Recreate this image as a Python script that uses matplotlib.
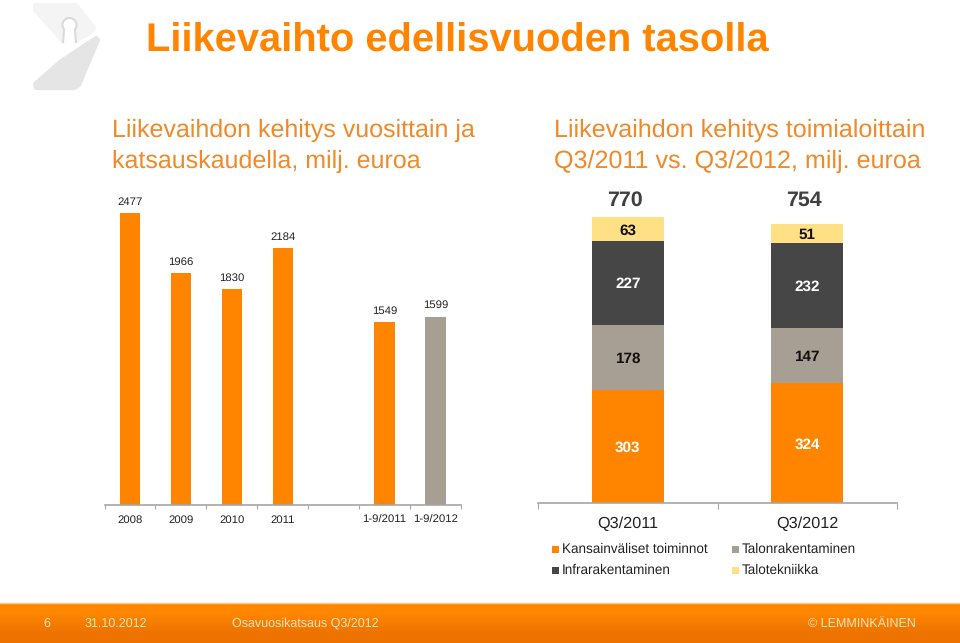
import matplotlib
matplotlib.use("Agg")
import matplotlib.pyplot as plt
from matplotlib.patches import Polygon, Rectangle
import numpy as np

plt.rcParams['font.family'] = ['Liberation Sans', 'DejaVu Sans']
plt.rcParams['text.hinting'] = 'no_hinting'

W = 960
H = 643

ORANGE = "#FF8500"
GREY = "#A89F94"
DARK = "#464646"
YELLOW = "#FFE085"
SUB = "#EE8A2A"
FOOT = "#FFE3BE"

# vuosittain
years = ["2008", "2009", "2010", "2011", "", "1-9/2011", "1-9/2012"]
sales = [2477, 1966, 1830, 2184, None, 1549, 1599]
sales_colors = [ORANGE, ORANGE, ORANGE, ORANGE, ORANGE, ORANGE, GREY]

# toimialoittain
quarters = ["Q3/2011", "Q3/2012"]
international = [303, 324]
building = [178, 147]
infra = [227, 232]
services = [63, 51]
totals = [770, 754]
segment_names = ["Kansainväliset toiminnot", "Infrarakentaminen", "Talonrakentaminen", "Talotekniikka"]


def px_axes(fig, left, right, top, bottom):
    return fig.add_axes([left / W, 1 - bottom / H, (right - left) / W, (bottom - top) / H])


fig = plt.figure(figsize=(W / 100, H / 100), dpi=100)

# koko kuvan tausta pikseleissa
bg = fig.add_axes([0, 0, 1, 1])
bg.axis("off")

# alapalkki
grad = np.array([[1.0, 0.53, 0.0], [0.93, 0.45, 0.0]]).reshape(2, 1, 3)
bg.imshow(grad, extent=(0, W, H, 603), aspect="auto", interpolation="bilinear", zorder=1)
bg.set_xlim(0, W)
bg.set_ylim(H, 0)
bg.plot([0, W], [603, 603], color="#FFC88A", lw=1, zorder=2)

# logo
bg.add_patch(Polygon([(35, 5), (76, 5), (94, 28), (90, 33), (75, 41), (63, 41), (35, 10)],
                     closed=True, fc="#F4F4F4", ec="#F4F4F4", lw=3, joinstyle="round", zorder=2))
bg.add_patch(Polygon([(96, 38), (98, 40), (79, 85), (75, 88), (36, 88), (35, 84), (60, 62)],
                     closed=True, fc="#E5E5E5", ec="#E5E5E5", lw=3, joinstyle="round", zorder=2))
ring = np.linspace(np.radians(-40), np.radians(220), 40)
ring_x = np.concatenate([[76], 69.5 + 7 * np.cos(ring), [63]])
ring_y = np.concatenate([[42], 25 - 7 * np.sin(ring), [42]])
bg.fill(ring_x, ring_y, color="white", zorder=3)
bg.plot(ring_x, ring_y, color="#DADADA", lw=1.5, zorder=3)

bg.text(146, 52, "Liikevaihto edellisvuoden tasolla", fontsize=28.7, fontweight="bold",
        color=ORANGE, va="baseline", ha="left")

bg.text(112, 137, "Liikevaihdon kehitys vuosittain ja", fontsize=18, color=SUB, va="baseline")
bg.text(112, 168, "katsauskaudella, milj. euroa", fontsize=18, color=SUB, va="baseline")
bg.text(554, 137, "Liikevaihdon kehitys toimialoittain", fontsize=18.1, color=SUB, va="baseline")
bg.text(554, 168, "Q3/2011 vs. Q3/2012, milj. euroa", fontsize=18.1, color=SUB, va="baseline")

# alatunniste
bg.text(47, 627, "6", fontsize=9, color=FOOT, va="baseline", ha="center", zorder=3)
bg.text(85, 627, "31.10.2012", fontsize=9, color=FOOT, va="baseline", zorder=3)
bg.text(232, 627, "Osavuosikatsaus Q3/2012", fontsize=9, color=FOOT, va="baseline", zorder=3)
bg.text(916, 627, "© LEMMINKÄINEN", fontsize=9, color=FOOT, va="baseline", ha="right", zorder=3)

# vasen kuva
ax1 = px_axes(fig, 104.5, 461, 199, 504.5)
ax1.patch.set_alpha(0)
x1 = np.arange(len(years))
for i, v in enumerate(sales):
    if v is None:
        continue
    ax1.bar(i, v, width=0.4, color=sales_colors[i])
    ax1.annotate(str(v), (i, v), xytext=(0, 6), textcoords="offset pixels", ha="center", va="bottom",
                 fontsize=8.2, color="#222222", annotation_clip=False)
ax1.set_xlim(-0.5, 6.5)
ax1.set_ylim(0, 2600)
ax1.set_yticks([])
ax1.set_xticks(np.arange(-0.5, 7, 1))
ax1.set_xticklabels([])
ax1.set_xticks(x1, minor=True)
ax1.set_xticklabels(years, minor=True, fontsize=8.2, color="#222222")
ax1.tick_params(axis="x", which="major", length=3, color="#A6A6A6", direction="out")
ax1.tick_params(axis="x", which="minor", length=0, pad=7.7)
for s in ["left", "right", "top"]:
    ax1.spines[s].set_visible(False)
ax1.spines["bottom"].set_color("#A6A6A6")
ax1.spines["bottom"].set_linewidth(1.2)

# oikea kuva
ax2 = px_axes(fig, 538, 897, 189, 502.5)
ax2.patch.set_alpha(0)
x2 = np.arange(len(quarters))
bottom = np.zeros(2)
stack = [(international, ORANGE, "white"), (building, GREY, "#111111"),
         (infra, DARK, "white"), (services, YELLOW, "#111111")]
for vals, col, tcol in stack:
    ax2.bar(x2, vals, width=0.4, bottom=bottom, color=col)
    for i, v in enumerate(vals):
        ax2.text(i, bottom[i] + v / 2 - 5, str(v), ha="center", va="center", fontsize=11,
                 fontweight="bold", color=tcol)
    bottom = bottom + np.array(vals)
for i, t in enumerate(totals):
    ax2.annotate(str(t), (i, 816), xytext=(-3, 0), textcoords="offset pixels", ha="center",
                 va="center", fontsize=15.4, fontweight="bold", color="#404040")
ax2.set_xlim(-0.5, 1.5)
ax2.set_ylim(0, 848)
ax2.set_yticks([])
ax2.set_xticks([-0.5, 0.5, 1.5])
ax2.set_xticklabels([])
ax2.set_xticks(x2, minor=True)
ax2.set_xticklabels(quarters, minor=True, fontsize=11.7, color="#222222")
ax2.tick_params(axis="x", which="major", length=4, color="#A6A6A6", direction="out")
ax2.tick_params(axis="x", which="minor", length=0, pad=10)
for s in ["left", "right", "top"]:
    ax2.spines[s].set_visible(False)
ax2.spines["bottom"].set_color("#A6A6A6")
ax2.spines["bottom"].set_linewidth(1.2)

# selite
legend_pos = [(552, 549), (552, 570), (732, 549), (732, 570)]
legend_cols = [ORANGE, DARK, GREY, YELLOW]
for (lx, ly), c, name in zip(legend_pos, legend_cols, segment_names):
    bg.add_patch(Rectangle((lx, ly - 3.5), 7, 7, fc=c, ec="none", zorder=2))
    bg.text(lx + 10, ly + 4, name, fontsize=9.75, color="#222222", va="baseline", zorder=3)

fig.savefig("out.png", dpi=100)
